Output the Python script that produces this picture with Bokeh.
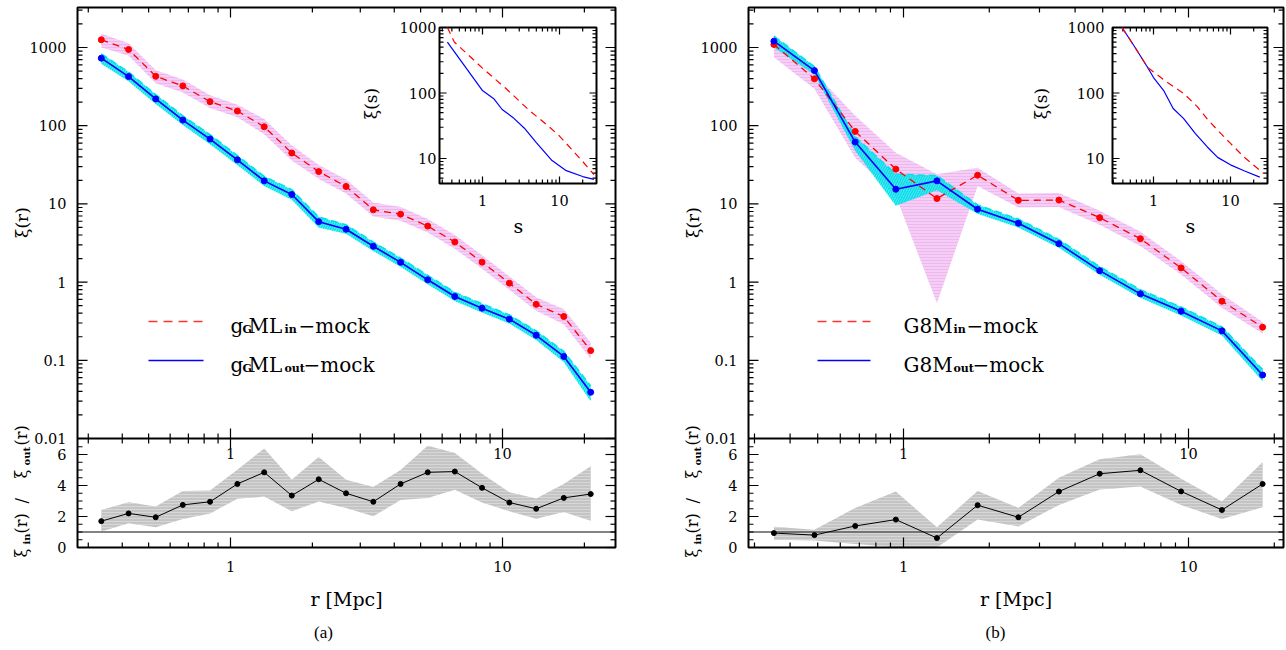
import numpy as np
from bokeh.plotting import figure
from bokeh.models import Range1d, LogScale, LinearScale
from bokeh.layouts import row
from bokeh.embed import file_html
from bokeh.resources import INLINE
from bokeh.core.properties import value

# ---------------- panel (a): gGML ----------------
r_a = [0.335, 0.422, 0.531, 0.668, 0.841, 1.06, 1.33, 1.68, 2.11, 2.66,
       3.35, 4.22, 5.31, 6.68, 8.41, 10.6, 13.3, 16.8, 21.1]
xi_in_a = [1255, 943, 428, 323, 203, 154, 97, 44.7, 25.9, 16.7,
           8.4, 7.4, 5.2, 3.26, 1.80, 0.97, 0.52, 0.363, 0.133]
xi_in_hi_a = [1500, 1130, 510, 390, 245, 185, 122, 56, 31.5, 20.5,
              10.4, 9.1, 6.4, 4.0, 2.2, 1.18, 0.64, 0.45, 0.168]
xi_in_lo_a = [1000, 790, 350, 265, 168, 128, 78, 36, 21, 13.6,
              6.9, 6.1, 4.3, 2.67, 1.48, 0.80, 0.43, 0.29, 0.105]
xi_out_a = [730, 425, 220, 118, 67.5, 36.6, 19.7, 13.2, 5.93, 4.74,
            2.87, 1.79, 1.07, 0.655, 0.464, 0.336, 0.209, 0.112, 0.039]
xi_out_hi_a = [830, 485, 250, 134, 77, 41.5, 22.5, 15.2, 6.8, 5.4,
               3.25, 2.03, 1.22, 0.74, 0.53, 0.38, 0.238, 0.13, 0.047]
xi_out_lo_a = [620, 370, 190, 102, 58, 31.5, 17, 11.3, 5.0, 4.15,
               2.5, 1.57, 0.94, 0.575, 0.41, 0.295, 0.182, 0.095, 0.030]
ratio_a = [1.7, 2.2, 1.95, 2.75, 2.95, 4.1, 4.85, 3.35, 4.4, 3.5,
           2.95, 4.1, 4.85, 4.9, 3.85, 2.9, 2.5, 3.2, 3.45]
ratio_hi_a = [2.42, 2.92, 2.64, 3.64, 3.68, 5.02, 6.39, 4.37, 5.84, 4.37,
              3.9, 5.0, 6.56, 6.1, 4.76, 3.57, 3.16, 4.1, 5.24]
ratio_lo_a = [1.04, 1.56, 1.3, 1.84, 2.2, 3.14, 3.29, 2.34, 2.97, 2.55,
              2.01, 3.07, 3.2, 3.72, 2.9, 2.34, 1.86, 2.29, 1.73]
s_in_a = [0.35, 0.43, 1.0, 2.0, 4.0, 7.0, 10.0, 20.0, 28.0]
xis_in_a = [1000, 600, 240, 118, 55, 32, 22, 9, 5.7]
s_out_a = [0.35, 0.5, 1.0, 1.4, 1.8, 2.5, 3.5, 5.0, 8.0, 12.0, 20.0, 28.0]
xis_out_a = [600, 335, 109, 82, 56, 42, 29, 17.5, 9.3, 6.6, 5.3, 4.8]

# ---------------- panel (b): G8M ----------------
r_b = [0.351, 0.487, 0.677, 0.94, 1.31, 1.82, 2.53, 3.51, 4.88, 6.78,
       9.42, 13.1, 18.2]
xi_in_b = [1093, 397, 84.5, 27.8, 11.7, 23.3, 11.1, 11.2, 6.67, 3.59,
           1.52, 0.57, 0.265]
xi_in_hi_b = [1420, 480, 134, 45, 24, 29, 13.6, 13.8, 8.2, 4.4,
              1.85, 0.7, 0.31]
xi_in_lo_b = [750, 296, 39, 12.6, 0.54, 17, 9.0, 9.1, 5.4, 2.9,
              1.25, 0.47, 0.22]
xi_out_b = [1205, 507, 61.8, 15.4, 19.7, 8.55, 5.66, 3.10, 1.40, 0.708,
            0.425, 0.238, 0.0649]
xi_out_hi_b = [1400, 570, 72, 24, 23, 9.7, 6.4, 3.5, 1.58, 0.8,
               0.48, 0.268, 0.076]
xi_out_lo_b = [1000, 450, 48, 9.5, 15, 7.5, 5.0, 2.75, 1.24, 0.63,
               0.375, 0.208, 0.054]
ratio_b = [0.93, 0.8, 1.39, 1.8, 0.61, 2.73, 1.95, 3.61, 4.76, 4.98,
           3.62, 2.42, 4.1]
ratio_hi_b = [1.34, 1.15, 2.55, 3.61, 1.3, 3.64, 2.55, 4.5, 5.69, 6.02,
              4.44, 2.97, 5.5]
ratio_lo_b = [0.5, 0.45, 0.22, 0.04, 0.0, 1.8, 1.36, 2.75, 3.74, 3.94,
              2.75, 1.84, 2.6]
s_in_b = [0.39, 0.55, 0.84, 1.5, 2.5, 3.7, 5.0, 6.8, 10.0, 15.0, 27.0]
xis_in_b = [1000, 540, 245, 146, 97, 62, 40, 27, 17, 10.5, 5.9]
s_out_b = [0.39, 0.55, 0.84, 1.0, 1.35, 1.8, 2.45, 3.5, 5.0, 6.8, 10.0, 15.0, 24.0]
xis_out_b = [1000, 540, 245, 172, 110, 58, 41, 24, 15, 10.4, 8.0, 6.5, 5.2]

# ---------------- tick values and labels ----------------
X_MAJ = [1, 10]
X_LAB = ["1", "10"]
X_MIN = [0.3, 0.4, 0.5, 0.6, 0.7, 0.8, 0.9, 2, 3, 4, 5, 6, 7, 8, 9, 20]
Y_MAJ = [0.01, 0.1, 1, 10, 100, 1000]
Y_LAB = ["0.01", "0.1", "1", "10", "100", "1000"]
Y_MIN = [0.02, 0.03, 0.04, 0.05, 0.06, 0.07, 0.08, 0.09,
         0.2, 0.3, 0.4, 0.5, 0.6, 0.7, 0.8, 0.9,
         2, 3, 4, 5, 6, 7, 8, 9, 20, 30, 40, 50, 60, 70, 80, 90,
         200, 300, 400, 500, 600, 700, 800, 900, 2000, 3000]
R_MAJ = [0, 2, 4, 6]
R_LAB = ["0", "2", "4", "6"]
R_MIN = [0.5, 1, 1.5, 2.5, 3, 3.5, 4.5, 5, 5.5, 6.5]
S_XMIN = [0.3, 0.4, 0.5, 0.6, 0.7, 0.8, 0.9, 2, 3, 4, 5, 6, 7, 8, 9, 20]
S_YMAJ = [1000, 100, 10]
S_YLAB = ["1000", "100", "10"]
S_YMIN = [5, 6, 7, 8, 9, 20, 30, 40, 50, 60, 70, 80, 90,
          200, 300, 400, 500, 600, 700, 800, 900]

SERIF = "DejaVu Serif"
H = 650
TICK_FS = "14.5px"


def make_panel(cfg):
    W = cfg["W"]
    xoff = cfg["xoff"]

    def cx(rx):
        return rx - xoff

    def cy(ry):
        return ry

    def mapper(c1, v1, c2, v2, log):
        f1, f2 = (np.log10(v1), np.log10(v2)) if log else (v1, v2)
        s = (f2 - f1) / (c2 - c1)

        def f(c):
            val = f1 + (c - c1) * s
            return 10 ** val if log else val
        return f

    (ax1, av1), (ax2, av2) = cfg["xanch"]
    fx = mapper(cx(ax1), av1, cx(ax2), av2, True)
    fym = mapper(cy(47), 1000, cy(438), 0.01, True)
    fyr = mapper(cy(547), 0, cy(454), 6, False)
    (ix1, iv1), (ix2, iv2) = cfg["ixanch"]
    fix = mapper(cx(ix1), iv1, cx(ix2), iv2, True)
    fiy = mapper(cy(27), 1000, cy(158), 10, True)

    X = lambda rx: fx(cx(rx))
    YM = lambda ry: fym(cy(ry))
    YR = lambda ry: fyr(cy(ry))
    IX = lambda rx: fix(cx(rx))
    IY = lambda ry: fiy(cy(ry))

    p = figure(width=W, height=H, x_axis_type="log", y_axis_type="log",
               x_range=Range1d(fx(0), fx(W)), y_range=Range1d(fym(H), fym(0)),
               x_axis_location=None, y_axis_location=None,
               output_backend="svg", toolbar_location=None, min_border=0,
               background_fill_color="white", border_fill_color="white")
    p.extra_y_ranges = {"ratio": Range1d(fyr(H), fyr(0)),
                        "ins": Range1d(fiy(H), fiy(0))}
    p.extra_y_scales = {"ratio": LinearScale(), "ins": LogScale()}
    p.extra_x_ranges = {"ins": Range1d(fix(0), fix(W))}
    p.extra_x_scales = {"ins": LogScale()}
    p.grid.visible = False
    p.outline_line_color = None

    L, R, T, B, MB = cfg["L"], cfg["R"], 7, 547, 438
    rat = dict(y_range_name="ratio")
    ins = dict(x_range_name="ins", y_range_name="ins")

    def txt(x, y, t, size=TICK_FS, align="center", base="middle", angle=0.0,
            style="normal", font=SERIF, **kw):
        p.text(x=x, y=y, text=t, text_align=align, text_baseline=base,
               angle=angle, text_font=value(font), text_font_size=size,
               text_font_style=value(style), text_color="black", **kw)

    # ---- main bands / lines ----
    r = cfg["r"]
    p.varea(x=r, y1=cfg["in_lo"], y2=cfg["in_hi"], fill_color="#f6cdf6",
            hatch_pattern="horizontal_line", hatch_color="#e9b0e9",
            hatch_scale=3, hatch_weight=0.7)
    p.varea(x=r, y1=cfg["out_lo"], y2=cfg["out_hi"], fill_color="#10eef2",
            fill_alpha=0.8, hatch_pattern="right_diagonal_line",
            hatch_color="#00d8e0", hatch_scale=5, hatch_weight=1)
    p.line(r, cfg["out_hi"], line_color="#00e0ea", line_dash="7 4", line_width=1.5)
    p.line(r, cfg["in"], line_color="red", line_dash="7 5", line_width=1.3)
    p.line(r, cfg["out"], line_color="blue", line_width=1.6)
    p.scatter(r, cfg["in"], size=6, color="red")
    p.scatter(r, cfg["out"], size=6, color="blue")

    # ---- ratio panel ----
    p.varea(x=r, y1=cfg["rat_lo"], y2=cfg["rat_hi"], fill_color="#c4c4c4",
            hatch_pattern="horizontal_line", hatch_color="#dcdcdc",
            hatch_scale=3, hatch_weight=0.8, **rat)
    p.segment(x0=[X(L)], y0=[1], x1=[X(R)], y1=[1], line_color="#5a5a5a",
              line_width=1.5, **rat)
    p.line(r, cfg["rat"], line_color="black", line_width=1, **rat)
    p.scatter(r, cfg["rat"], size=5, color="black", **rat)

    # ---- frames ----
    p.quad(left=[X(L)], right=[X(R)], top=[YM(T)], bottom=[YM(B)],
           fill_color=None, line_color="black", line_width=2)
    p.segment(x0=[X(L)], y0=[0.01], x1=[X(R)], y1=[0.01], line_color="black",
              line_width=2)

    def vt(xs, y0, y1, **kw):
        n = len(xs)
        p.segment(x0=xs, y0=[y0] * n, x1=xs, y1=[y1] * n, line_color="black",
                  line_width=1.2, **kw)

    def ht(ys, x0, x1, **kw):
        n = len(ys)
        p.segment(x0=[x0] * n, y0=ys, x1=[x1] * n, y1=ys, line_color="black",
                  line_width=1.2, **kw)

    for tl, ln in ((X_MAJ, 10), (X_MIN, 5)):
        vt(tl, YM(T), YM(T + ln))                 # top
        vt(tl, YM(MB - ln), YM(MB + ln))          # main/ratio boundary
        vt(tl, YR(B), YR(B - ln), **rat)          # bottom
    for tl, ln in ((Y_MAJ, 10), (Y_MIN, 5)):
        ht(tl, X(L), X(L + ln))
        ht(tl, X(R), X(R - ln))
    for tl, ln in ((R_MAJ, 10), (R_MIN, 5)):
        ht(tl, X(L), X(L + ln), **rat)
        ht(tl, X(R), X(R - ln), **rat)

    # ---- axis texts ----
    txt([X(L - 11)] * len(Y_MAJ), Y_MAJ, Y_LAB, align="right")
    txt([X(L - 11)] * len(R_MAJ), R_MAJ, R_LAB, align="right", **rat)
    txt(X_MAJ, [YR(453)] * 2, X_LAB, **rat)
    txt(X_MAJ, [YR(566)] * 2, X_LAB, **rat)
    txt([X((L + R) / 2)], [YR(598)], ["r [Mpc]"], size="19px", **rat)
    txt([X(cfg["cap_x"])], [YR(632)], [cfg["caption"]], size="17px",
        font="Liberation Serif", **rat)
    yl = L - 56
    txt([X(yl)], [YR(222)], ["ξ(r)"], size="17px", angle=np.pi / 2, **rat)
    rlab = [("ξ", 557, 0, False), ("in", 544, 5, True), ("(r)", 533, 0, False),
            ("/", 503, 0, False), ("ξ", 478, 0, False), ("out", 465, 5, True),
            ("(r)", 445, 0, False)]
    for t, py, dx, sub in rlab:
        txt([X(yl + dx)], [YR(py)], [t], size="10px" if sub else "16px",
            align="left", angle=np.pi / 2, style="bold" if sub else "normal", **rat)

    # ---- inset ----
    il, ir, it, ib = cfg["ibox"]
    p.quad(left=[IX(il)], right=[IX(ir)], top=[IY(it)], bottom=[IY(ib)],
           fill_color="white", line_color="black", line_width=2, **ins)
    for tl, ln in ((X_MAJ, 7), (S_XMIN, 4)):
        vt(tl, IY(ib), IY(ib - ln), **ins)
        vt(tl, IY(it), IY(it + ln), **ins)
    for tl, ln in ((S_YMAJ, 7), (S_YMIN, 4)):
        ht(tl, IX(il), IX(il + ln), **ins)
        ht(tl, IX(ir), IX(ir - ln), **ins)
    p.line(cfg["s_out"], cfg["xis_out"], line_color="blue", line_width=1.2, **ins)
    p.line(cfg["s_in"], cfg["xis_in"], line_color="red", line_dash="7 5",
           line_width=1.2, **ins)
    txt([IX(cfg["ilab_r"])] * 3, S_YMAJ, S_YLAB, align="right", **ins)
    txt(X_MAJ, [IY(200)] * 2, X_LAB, **ins)
    txt([IX(cfg["iylab_x"])], [IY(103)], ["ξ(s)"], size="17px", angle=np.pi / 2, **ins)
    txt([IX(cfg["ixlab_x"])], [IY(225)], ["s"], size="19px", **ins)

    # ---- legend ----
    lx0, lx1 = cfg["leg_line"]
    p.line([X(lx0), X(lx1)], [YM(321)] * 2, line_color="#ff3030",
           line_dash="9 6", line_width=1.3)
    p.line([X(lx0), X(lx1)], [YM(360)] * 2, line_color="blue", line_width=1.6)
    for pieces, base in ((cfg["leg1"], 325), (cfg["leg2"], 364)):
        for t, px, sub in pieces:
            txt([X(px)], [YM(base + (4 if sub else 0))], [t],
                size="11px" if sub else "20px", align="left", base="alphabetic",
                style="bold" if sub else "normal")
    return p


cfg_a = dict(W=643, xoff=0, L=77, R=615,
             xanch=((230, 1), (502, 10)), ixanch=((482, 1), (559, 10)),
             r=r_a, **{"in": xi_in_a}, in_hi=xi_in_hi_a, in_lo=xi_in_lo_a,
             out=xi_out_a, out_hi=xi_out_hi_a, out_lo=xi_out_lo_a,
             rat=ratio_a, rat_hi=ratio_hi_a, rat_lo=ratio_lo_a,
             ibox=(439, 596, 27, 183),
             s_in=s_in_a, xis_in=xis_in_a, s_out=s_out_a, xis_out=xis_out_a,
             ilab_r=436, iylab_x=370, ixlab_x=518,
             leg_line=(148, 203),
             leg1=[("g", 230, False), ("G", 242, True), ("ML", 248, False),
                   ("in", 284, True), ("\u2212mock", 298, False)],
             leg2=[("g", 230, False), ("G", 242, True), ("ML", 248, False),
                   ("out", 284, True), ("\u2212mock", 303, False)],
             cap_x=323, caption="(a)")

cfg_b = dict(W=643, xoff=643, L=748, R=1283,
             xanch=((903, 1), (1188, 10)), ixanch=((1153, 1), (1230, 10)),
             r=r_b, **{"in": xi_in_b}, in_hi=xi_in_hi_b, in_lo=xi_in_lo_b,
             out=xi_out_b, out_hi=xi_out_hi_b, out_lo=xi_out_lo_b,
             rat=ratio_b, rat_hi=ratio_hi_b, rat_lo=ratio_lo_b,
             ibox=(1112, 1267, 27, 183),
             s_in=s_in_b, xis_in=xis_in_b, s_out=s_out_b, xis_out=xis_out_b,
             ilab_r=1104, iylab_x=1040, ixlab_x=1190,
             leg_line=(817, 870),
             leg1=[("G8M", 903, False), ("in", 953, True), ("\u2212mock", 966, False)],
             leg2=[("G8M", 903, False), ("out", 953, True), ("\u2212mock", 972, False)],
             cap_x=995, caption="(b)")

pa = make_panel(cfg_a)
pb = make_panel(cfg_b)
layout = row(pa, pb, spacing=0)
open("out.html", "w").write(file_html(layout, INLINE))
